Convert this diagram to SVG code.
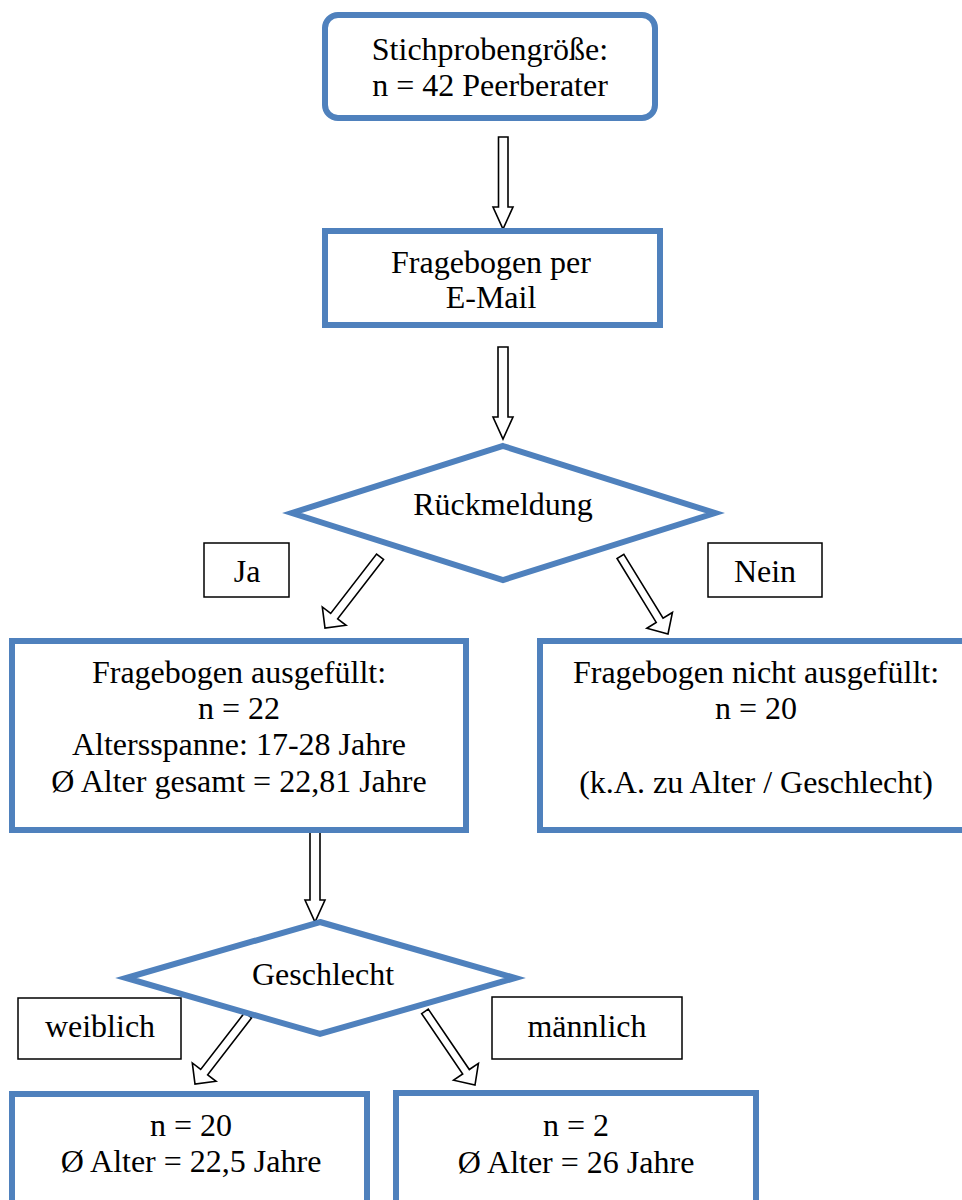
<svg xmlns="http://www.w3.org/2000/svg" width="962" height="1200" viewBox="0 0 962 1200">
<style>
.node{fill:#fff;stroke:#4F81BD;stroke-width:6}
.lbl{fill:#fff;stroke:#000;stroke-width:1.5}
.arr{fill:#fff;stroke:#000;stroke-width:1.6;stroke-linejoin:miter}
text{font-family:"Liberation Serif","Times New Roman",serif;font-size:32px;fill:#000;text-anchor:middle}
</style>
<rect width="962" height="1200" fill="#fff"/>
<g id="connectors">
<polygon class="arr" points="498.5,137 508,137 508,207 513,207 503,229 493,207 498.5,207"/>
<polygon class="arr" points="498,347 508,347 508,417 513,417 503,439 493,417 498,417"/>
<polygon class="arr" transform="translate(325,628) rotate(127.7)" points="-90,-4.4 -15,-4.4 -15,-15 0,0 -15,15 -15,4.4 -90,4.4"/>
<polygon class="arr" transform="translate(668,634) rotate(58.5)" points="-91,-4 -16,-4 -16,-15 0,0 -16,15 -16,4 -91,4"/>
<polygon class="arr" points="310,830 320,830 320,900 325,900 315,922 305,900 310,900"/>
<polygon class="arr" transform="translate(195,1084) rotate(127.7)" points="-87,-4.4 -15,-4.4 -15,-15 0,0 -15,15 -15,4.4 -87,4.4"/>
<polygon class="arr" transform="translate(475,1085) rotate(55.8)" points="-89,-4 -16,-4 -16,-15 0,0 -16,15 -16,4 -89,4"/>
</g>
<g id="n1">
<rect class="node" x="325" y="15" width="330" height="103" rx="13"/>
<text x="490" y="60">Stichprobengröße:</text>
<text x="490" y="96">n = 42 Peerberater</text>
</g>
<g id="n2">
<rect class="node" x="325" y="231" width="335" height="94"/>
<text x="491" y="273">Fragebogen per</text>
<text x="491" y="308">E-Mail</text>
</g>
<g id="d1">
<polygon class="node" points="503,446 715,513 503,580 292,513"/>
<text x="503" y="515">Rückmeldung</text>
</g>
<g id="lblJa">
<rect class="lbl" x="204" y="543" width="85" height="54"/>
<text x="247" y="582">Ja</text>
</g>
<g id="lblNein">
<rect class="lbl" x="708" y="543" width="114" height="54"/>
<text x="765" y="582">Nein</text>
</g>
<g id="n3">
<rect class="node" x="12" y="641" width="454" height="189"/>
<text x="239" y="683">Fragebogen ausgefüllt:</text>
<text x="239" y="719">n = 22</text>
<text x="239" y="755">Altersspanne: 17-28 Jahre</text>
<text x="239" y="792">Ø Alter gesamt = 22,81 Jahre</text>
</g>
<g id="n4">
<rect class="node" x="540" y="641" width="445" height="189"/>
<text x="756" y="683">Fragebogen nicht ausgefüllt:</text>
<text x="756" y="719">n = 20</text>
<text x="756" y="793">(k.A. zu Alter / Geschlecht)</text>
</g>
<g id="d2">
<polygon class="node" points="320,922 515,978 320,1034 126,978"/>
<text x="323" y="985">Geschlecht</text>
</g>
<g id="lblW">
<rect class="lbl" x="18" y="998" width="163" height="61"/>
<text x="100" y="1037">weiblich</text>
</g>
<g id="lblM">
<rect class="lbl" x="492" y="997" width="190" height="62"/>
<text x="587" y="1037">männlich</text>
</g>
<g id="n5">
<rect class="node" x="12" y="1094" width="355" height="120"/>
<text x="191" y="1136">n = 20</text>
<text x="191" y="1172">Ø Alter = 22,5 Jahre</text>
</g>
<g id="n6">
<rect class="node" x="396" y="1093" width="360" height="120"/>
<text x="576" y="1136">n = 2</text>
<text x="576" y="1173">Ø Alter = 26 Jahre</text>
</g>
</svg>
